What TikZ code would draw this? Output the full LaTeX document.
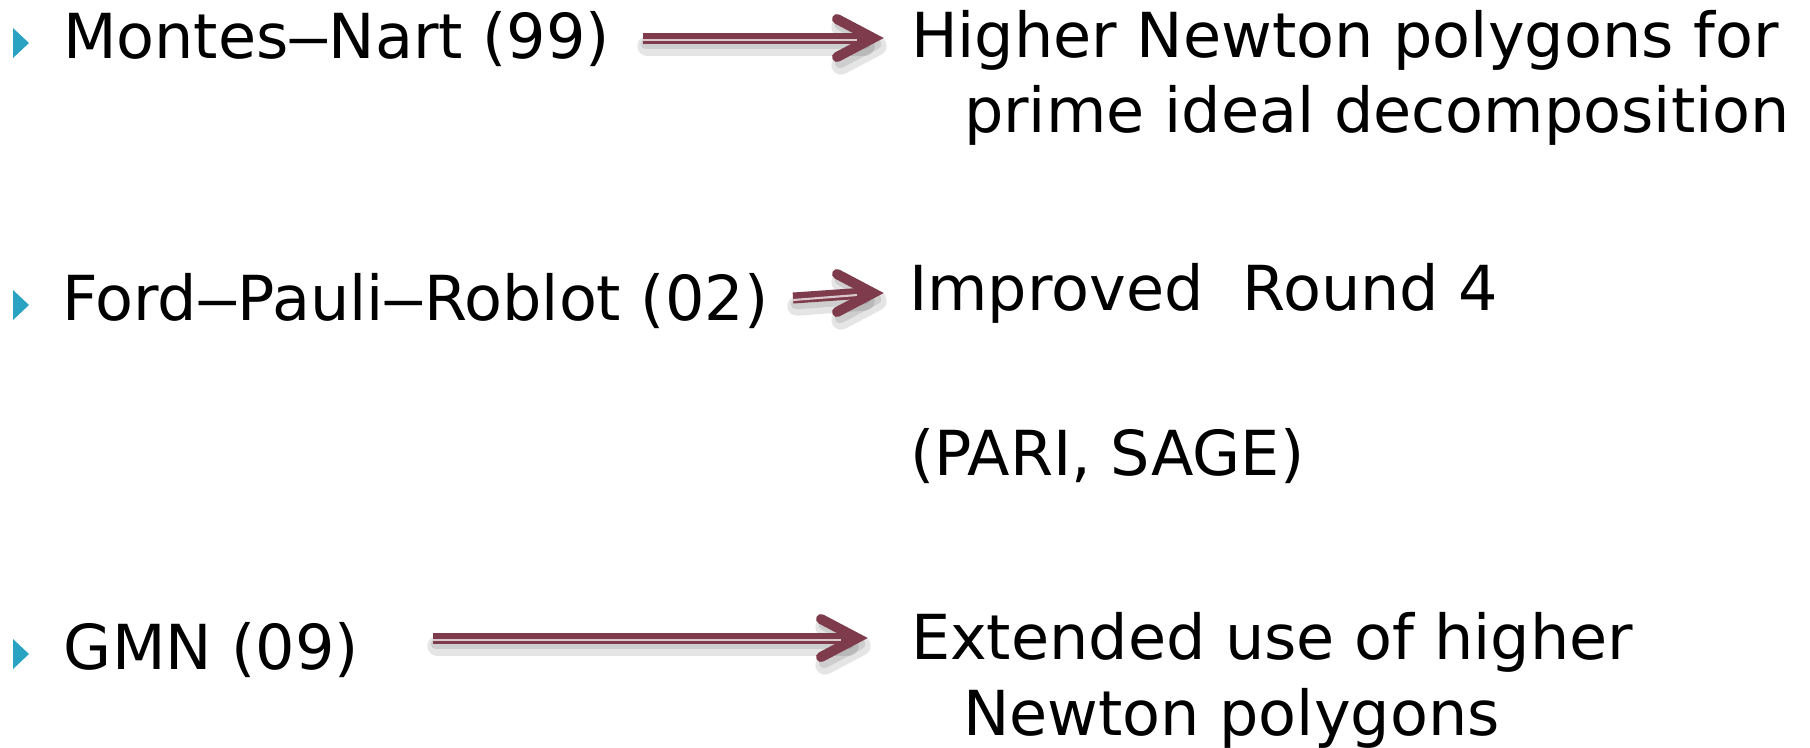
\documentclass[tikz,border=0pt]{standalone}
\usepackage{fontspec}
\usepackage{graphicx}
\setmainfont{DejaVu Sans}
\usetikzlibrary{calc}
\definecolor{arrowred}{RGB}{125,59,76}
\definecolor{arrowlight}{RGB}{218,200,205}
\definecolor{bulletteal}{RGB}{42,163,195}
\newcommand{\longdash}{\kern-0.9pt\scalebox{1.5}[1]{–}\kern-0.9pt}
\tikzset{
  txt/.style={anchor=base west, inner sep=0pt, outer sep=0pt,
    font=\fontsize{17.64pt}{21pt}\selectfont, text=black},
  shaftline/.style={draw=arrowred, line width=3.13pt},
  midline/.style={draw=arrowlight, line width=0.6pt},
  headline/.style={draw=arrowred, line width=2.85pt, line cap=round, line join=miter},
  shadowline/.style={draw=black, opacity=0.10, line cap=round, line join=round},
  bulletmark/.style={fill=bulletteal},
}
% #1 = start coordinate, #2 = tip coordinate
\newcommand{\fatarrow}[2]{%
  \draw[shadowline, line width=5.5pt] ($(#1)+(4,8)$) -- ($(#2)+(-18,8)$);
  \draw[shadowline, line width=5.5pt] ($(#2)+(-42,-11)$) -- ($(#2)+(-6,8)$) -- ($(#2)+(-42,27)$);
  \draw[shadowline, line width=3pt] ($(#1)+(3,6)$) -- ($(#2)+(-18,6)$);
  \draw[shadowline, line width=3pt] ($(#2)+(-43,-13)$) -- ($(#2)+(-7,6)$) -- ($(#2)+(-43,25)$);
  \draw[shaftline] (#1) -- ($(#2)+(-18,0)$);
  \draw[midline] ($(#1)+(0,2)$) -- ($(#2)+(-26,2)$);
  \draw[headline] ($(#2)+(-46,-19)$) -- ($(#2)+(-10,0)$) -- ($(#2)+(-46,19)$);
}
\begin{document}
\begin{tikzpicture}[x=0.01cm, y=-0.01cm]
\useasboundingbox (0,0) rectangle (1810,747);

% bullets
\fill[bulletmark] (13,28) -- (29,43) -- (13,58) -- cycle;
\fill[bulletmark] (13,290) -- (29,305) -- (13,320) -- cycle;
\fill[bulletmark] (13,639) -- (29,654) -- (13,669) -- cycle;

% left texts
\node[txt] (mn)  at (63,58)  {Montes\longdash Nart (99)};
\node[txt] (fpr) at (62,320) {Ford\longdash Pauli\longdash Roblot (02)};
\node[txt] (gmn) at (64,669) {GMN (09)};

% right texts
\node[txt] (hnp)  at (911,57)  {Higher Newton polygons for};
\node[txt] (pid)  at (964,132) {prime ideal decomposition};
\node[txt] (imp)  at (909,310) {Improved\ \ Round 4};
\node[txt] (pari) at (910,475) {(PARI, SAGE)};
\node[txt] (ext)  at (911,659) {Extended use of higher};
\node[txt] (nwp)  at (963,735) {Newton polygons};

% arrow ends
\coordinate (a1s) at (643,38);
\coordinate (a1e) at (883,38);
\coordinate (a2s) at (793,298);
\coordinate (a2e) at (883,293);
\coordinate (a3s) at (433,638);
\coordinate (a3e) at (867,638);

\fatarrow{a1s}{a1e}
\fatarrow{a2s}{a2e}
\fatarrow{a3s}{a3e}
\end{tikzpicture}
\end{document}
